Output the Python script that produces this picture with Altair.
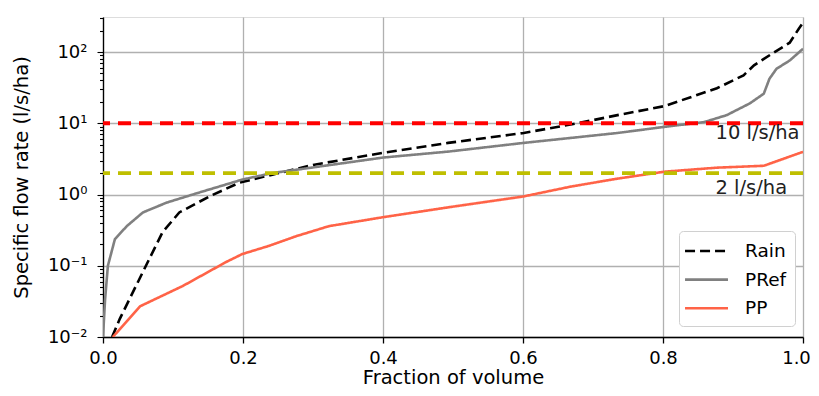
import altair as alt
import pandas as pd

# ---- data ----
rain_x = [0.013, 0.024, 0.057, 0.085, 0.109, 0.152, 0.195, 0.242, 0.3, 0.4, 0.493, 0.601,
          0.678, 0.735, 0.802, 0.877, 0.915, 0.93, 0.958, 0.981, 0.994, 1.0]
rain_y = [0.01, 0.018, 0.082, 0.295, 0.56, 0.94, 1.47, 1.9, 2.6, 3.85, 5.3, 7.3,
          10.0, 13.0, 17.4, 31.0, 47.0, 65.0, 98.0, 135.0, 212.0, 257.0]

pref_x = [0.0, 0.003, 0.007, 0.017, 0.034, 0.057, 0.091, 0.138, 0.199, 0.242, 0.3, 0.4,
          0.493, 0.601, 0.735, 0.802, 0.859, 0.891, 0.924, 0.944, 0.952, 0.962, 0.981, 1.0]
pref_y = [0.01, 0.034, 0.1, 0.236, 0.36, 0.56, 0.77, 1.07, 1.62, 2.0, 2.4, 3.3,
          4.0, 5.3, 7.3, 8.9, 10.4, 13.0, 19.0, 26.0, 42.0, 58.0, 76.0, 111.0]

pp_x = [0.014, 0.053, 0.114, 0.176, 0.199, 0.237, 0.276, 0.323, 0.4, 0.493, 0.601, 0.668,
        0.735, 0.802, 0.877, 0.944, 1.0]
pp_y = [0.01, 0.027, 0.052, 0.113, 0.146, 0.19, 0.26, 0.36, 0.48, 0.66, 0.94, 1.29,
        1.67, 2.09, 2.38, 2.53, 3.97]

series_names = ["Rain", "PRef", "PP"]
series_colors = ["black", "gray", "#ff6347"]
series_dash = [[10, 5], [1, 0], [1, 0]]

thresholds = [10, 2]
threshold_labels = ["10 l/s/ha", "2 l/s/ha"]
threshold_colors = ["red", "#bfbf00"]
label_x = [0.875, 0.875]
label_y = [7.4, 1.25]

x_ticks = [0.0, 0.2, 0.4, 0.6, 0.8, 1.0]
major_y = [0.01, 0.1, 1, 10, 100]
major_y_labels = ["10⁻²", "10⁻¹", "10⁰", "10¹", "10²"]
minor_y = [m * d for d in [0.01, 0.1, 1, 10, 100] for m in range(2, 10) if m * d <= 310]

FONT = "DejaVu Sans"
FS_TICK = 18
FS_TITLE = 19.5
FS_LEG = 18.5
FS_ANN = 19.5

rows = []
for name, xs, ys in [("Rain", rain_x, rain_y), ("PRef", pref_x, pref_y), ("PP", pp_x, pp_y)]:
    for i, (a, b) in enumerate(zip(xs, ys)):
        rows.append({"series": name, "x": a, "y": b, "i": i})
df = pd.DataFrame(rows)

thr_df = pd.DataFrame({"y": thresholds, "label": threshold_labels, "color": threshold_colors,
                       "lx": label_x, "ly": label_y})

label_expr = " : ".join(
    f"datum.value == {v} ? '{l}'" for v, l in zip(major_y, major_y_labels)
) + " : ''"
is_major = "indexof([0.01, 0.1, 1, 10, 100], datum.value) >= 0"

x_scale = alt.Scale(domain=[0, 1], nice=False, zero=False)
y_scale = alt.Scale(type="log", domain=[0.01, 310], nice=False)

x_enc = alt.X("x:Q", scale=x_scale,
              axis=alt.Axis(values=x_ticks, format=".1f", title="Fraction of volume",
                            grid=True, gridColor="#b0b0b0", gridWidth=1.3,
                            tickSize=6, tickWidth=1.3, tickColor="black",
                            domainColor="black", domainWidth=1.3,
                            labelFont=FONT, labelFontSize=FS_TICK, labelColor="black",
                            labelFlush=False, labelPadding=6,
                            labelOffset={"condition": {"test": "datum.value == 1", "value": -7},
                                         "value": 0},
                            titleFont=FONT, titleFontSize=FS_TITLE,
                            titleFontWeight="normal", titleColor="black", titlePadding=1))
y_enc = alt.Y("y:Q", scale=y_scale,
              axis=alt.Axis(values=sorted(major_y + minor_y), labelExpr=label_expr,
                            title="Specific flow rate (l/s/ha)",
                            grid=True, gridColor="#b0b0b0", gridWidth=1.3,
                            gridOpacity={"condition": {"test": is_major, "value": 1}, "value": 0},
                            tickSize={"condition": {"test": is_major, "value": 6}, "value": 3.5},
                            tickWidth=1.1, tickColor="black",
                            domainColor="black", domainWidth=1.3,
                            labelFont=FONT, labelFontSize=FS_TICK, labelColor="black",
                            labelPadding=10, labelOverlap=False, labelFlush=False,
                            titleFont=FONT, titleFontSize=FS_TITLE, titleFontWeight="normal",
                            titleColor="black", titlePadding=16))

legend = alt.Legend(title=None, orient="none", legendX=576, legendY=214,
                    symbolType="M-1.33,0H2.76", symbolSize=441, symbolStrokeWidth=2.6,
                    labelFont=FONT, labelFontSize=FS_LEG, labelColor="black",
                    labelOffset=34, rowPadding=6.6, padding=8,
                    strokeColor="#d0d0d0", fillColor="white", cornerRadius=4)

lines = alt.Chart(df).mark_line(strokeWidth=2.6, clip=True).encode(
    x=x_enc, y=y_enc,
    color=alt.Color("series:N", scale=alt.Scale(domain=series_names, range=series_colors),
                    legend=legend),
    strokeDash=alt.StrokeDash("series:N", scale=alt.Scale(domain=series_names, range=series_dash),
                              legend=legend),
    order="i:Q",
)

rules = alt.Chart(thr_df).mark_rule(strokeWidth=3.8, strokeDash=[13, 8]).encode(
    y=alt.Y("y:Q", scale=y_scale),
    color=alt.Color("color:N", scale=None),
)

texts = alt.Chart(thr_df).mark_text(font=FONT, fontSize=FS_ANN, align="left", baseline="middle",
                                    color="#222222").encode(
    x=alt.X("lx:Q", scale=x_scale),
    y=alt.Y("ly:Q", scale=y_scale),
    text="label:N",
)

chart = alt.layer(lines, rules, texts).properties(
    width=700, height=320,
    autosize=alt.AutoSizeParams(type="none"),
    padding={"left": 95, "top": 9, "right": 8, "bottom": 51},
).configure_view(stroke="black", strokeWidth=1.3).configure(background="white")

chart.save("out.html", embed_options={"renderer": "svg", "actions": False})
